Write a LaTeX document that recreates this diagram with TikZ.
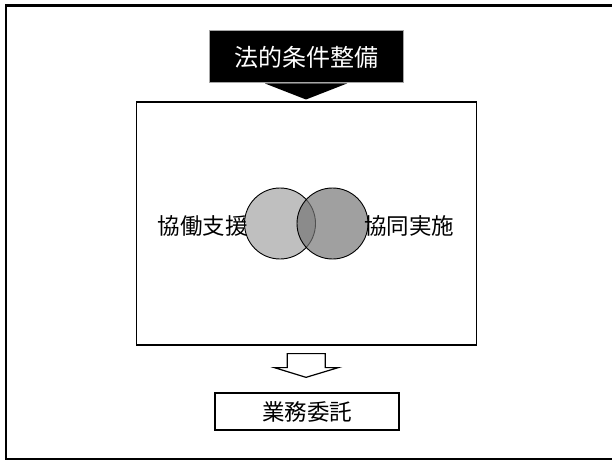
\documentclass[tikz,border=0pt]{standalone}
\usepackage{fontspec}
\setmainfont{Noto Sans CJK JP}
\usepackage{tikz}
\usetikzlibrary{positioning, calc}

\begin{document}
\begin{tikzpicture}[x=1pt, y=-1pt,
      labelbox/.style={rectangle, draw, line width=1.3pt, inner sep=0pt, font=\fontsize{22.5}{26}\selectfont},
      darkbox/.style={labelbox, fill=black, draw=gray!70, line width=1pt, text=white, font=\fontsize{24}{28}\selectfont},
      setcircle/.style={circle, draw, line width=0.9pt, minimum size=71pt, inner sep=0pt}]

      \useasboundingbox (0,0) rectangle (612,462);
      \clip (0,0) rectangle (612,462);

      % outer frame (right edge runs off the page)
      \draw[line width=2.2pt] (6,5.5) rectangle (618,459);

      % main box and circles
      \node[draw, line width=1.6pt, minimum width=340pt, minimum height=243pt, inner sep=0pt] (main) at (306.3,223.3) {};
      \node[setcircle, fill=black!25] (support) at (280,223.5) {};
      \node[setcircle, fill=black!54, fill opacity=0.69] (joint) at (332.5,223.5) {};
      \node[font=\fontsize{22.5}{26}\selectfont] (supportlbl) at (202.5,226) {協働支援};
      \node[font=\fontsize{22.5}{26}\selectfont] (jointlbl) at (409,226) {協同実施};

      % legal conditions on top
      \node[darkbox, minimum width=194pt, minimum height=52pt] (legal) at (306,57) {法的条件整備};
      \fill ($(legal.south)+(-41,0)$) -- ($(legal.south)+(41,0)$) -- ($(legal.south)+(0,16)$) -- cycle;

      % outsourcing below
      \node[labelbox, minimum width=184pt, minimum height=37pt] (outsource) at (307,411.5) {業務委託};
      \draw[line width=1.2pt, fill=white]
        ($(main.south)+(-19,8)$) -- ($(main.south)+(19,8)$) -- ($(main.south)+(19,22)$)
        -- ($(main.south)+(32,22)$) -- ($(outsource.north)+(-1,-15)$) -- ($(main.south)+(-32,22)$)
        -- ($(main.south)+(-19,22)$) -- cycle;
\end{tikzpicture}
\end{document}
